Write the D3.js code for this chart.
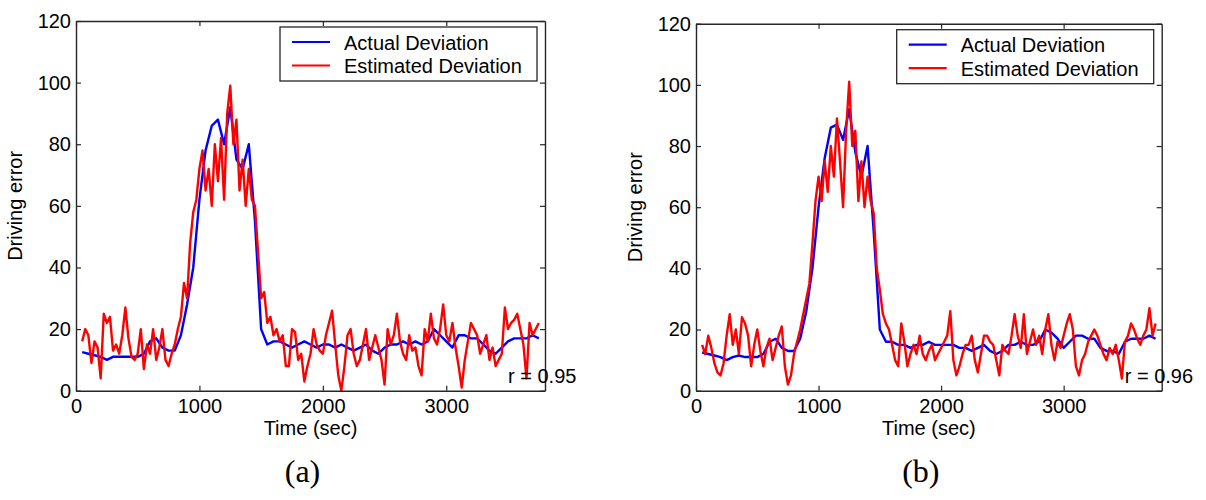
<!DOCTYPE html>
<html>
<head>
<meta charset="utf-8">
<script src="https://cdn.jsdelivr.net/npm/d3@7"></script>
<style>
  body { margin: 0; background: #fff; }
  svg { display: block; font-family: "Liberation Sans", Arial, sans-serif; }
</style>
</head>
<body>
<svg id="chart" width="1206" height="500"></svg>
<script>
// sample times (sec)
const timeEst = d3.range(50, 3751, 25);
const timeAct = d3.range(50, 3751, 50);

const xTicks = [0, 1000, 2000, 3000];
const yTicks = [0, 20, 40, 60, 80, 100, 120];
const seriesNames = ["Actual Deviation", "Estimated Deviation"];
const panelLabels = ["(a)", "(b)"];
const rLabels = ["r = 0.95", "r = 0.96"];

// panel (a)
const actualA = [
  12.5, 12, 11.5, 11, 10, 11, 11, 11, 11, 11, 12, 16, 17, 14, 13, 13, 18, 28, 40, 62,
  78, 86, 88, 80, 92, 75, 72, 80, 55, 20, 15, 16, 16, 15, 14, 15, 16, 15, 14, 15,
  15, 14, 15, 14, 13, 14, 15, 13, 12, 14, 15, 15, 16, 15, 16, 15, 16, 20, 18, 16,
  14, 18, 18, 17, 17, 15, 13, 12, 14, 16, 17, 17, 17, 18, 17
];
const estimatedA = [
  16, 20, 18, 9, 16, 14, 4, 25, 22, 24, 13, 15, 12, 18, 27, 17, 11, 10, 12, 20,
  7, 15, 12, 20, 10, 14, 20, 10, 8, 12, 15, 20, 24, 35, 30, 48, 58, 62, 72, 78,
  65, 72, 60, 80, 68, 82, 62, 90, 99, 80, 88, 65, 75, 60, 72, 62, 60, 45, 30, 32,
  22, 24, 18, 20, 16, 18, 8, 8, 20, 19, 10, 12, 3, 8, 12, 20, 15, 13, 12, 18,
  22, 26, 15, 5, 0, 8, 18, 20, 12, 8, 10, 15, 20, 10, 14, 18, 14, 10, 2, 20,
  15, 18, 25, 16, 12, 10, 18, 13, 14, 8, 5, 20, 16, 25, 17, 15, 20, 28, 18, 16,
  22, 14, 8, 1, 10, 16, 22, 20, 18, 12, 15, 18, 10, 14, 8, 10, 12, 27, 20, 22,
  23, 25, 20, 15, 4, 22, 18, 20, 22
];

// panel (b)
const actualB = [
  12.5, 12, 11.5, 11, 10, 11, 11.5, 11, 11, 11, 12, 16, 17, 14, 13, 13, 17, 26, 40, 60,
  76, 86, 87, 82, 92, 78, 70, 80, 52, 20, 16, 16, 15, 15, 14, 15, 15, 16, 15, 15,
  15, 15, 14, 14, 13, 14, 15, 13, 12, 13, 15, 15, 16, 15, 15, 16, 20, 19, 17, 14,
  16, 18, 18, 17, 17, 14, 13, 13, 12, 16, 17, 17, 17, 18, 17
];
const estimatedB = [
  15, 12, 18, 14, 9, 6, 5, 9, 18, 25, 15, 20, 12, 24, 22, 18, 8, 15, 20, 13,
  8, 14, 17, 10, 14, 18, 21, 8, 2, 5, 12, 16, 20, 25, 30, 35, 48, 62, 70, 62,
  75, 65, 80, 70, 89, 75, 60, 85, 101, 80, 85, 62, 75, 60, 70, 62, 58, 40, 33, 25,
  22, 20, 15, 10, 8, 22, 16, 8, 12, 15, 12, 18, 12, 10, 13, 15, 10, 12, 14, 16,
  18, 26, 10, 5, 8, 12, 15, 15, 18, 10, 6, 12, 18, 18, 16, 15, 10, 5, 15, 13,
  12, 18, 25, 18, 14, 25, 12, 16, 20, 15, 18, 12, 20, 25, 15, 10, 16, 14, 18, 22,
  25, 20, 8, 5, 10, 12, 16, 18, 20, 18, 15, 12, 10, 14, 12, 15, 10, 4, 16, 18,
  22, 20, 17, 15, 18, 20, 27, 18, 22
];

const panels = [
  { left: 76, top: 21, right: 545, bottom: 390.7, actual: actualA, estimated: estimatedA },
  { left: 696, top: 23.7, right: 1161.7, bottom: 390.7, actual: actualB, estimated: estimatedB }
];

const svg = d3.select("#chart");
const axisColor = "#262626";
const colors = ["#0000ff", "#ff0000"];

panels.forEach((p, i) => {
  const x = d3.scaleLinear().domain([0, 3800]).range([p.left, p.right]);
  const y = d3.scaleLinear().domain([0, 120]).range([p.bottom, p.top]);
  const w = p.right - p.left;
  const h = p.bottom - p.top;
  const g = svg.append("g");

  // lines
  const line = d3.line().x(d => x(d[0])).y(d => y(d[1]));
  g.append("path")
    .datum(timeAct.map((t, k) => [t, p.actual[k]]))
    .attr("fill", "none")
    .attr("stroke", colors[0])
    .attr("stroke-width", 2.4)
    .attr("stroke-linejoin", "round")
    .attr("d", line);
  g.append("path")
    .datum(timeEst.map((t, k) => [t, p.estimated[k]]))
    .attr("fill", "none")
    .attr("stroke", colors[1])
    .attr("stroke-width", 2.4)
    .attr("stroke-linejoin", "round")
    .attr("d", line);

  // axes, ticks pointing inward like matlab
  const styleAxis = sel => {
    sel.select(".domain").attr("stroke", axisColor).attr("stroke-width", 1.4);
    sel.selectAll(".tick line").attr("stroke", axisColor).attr("stroke-width", 1.2);
    sel.selectAll("text").attr("fill", "#000").style("font-size", "20px")
      .style("font-family", '"Liberation Sans", Arial, sans-serif');
  };
  g.append("g").attr("transform", `translate(0,${p.bottom})`)
    .call(d3.axisBottom(x).tickValues(xTicks).tickFormat(d3.format("d"))
      .tickSizeInner(-5).tickSizeOuter(0).tickPadding(8))
    .call(styleAxis);
  g.append("g").attr("transform", `translate(0,${p.top})`)
    .call(d3.axisTop(x).tickValues(xTicks).tickSizeInner(-5).tickSizeOuter(0).tickFormat(""))
    .call(styleAxis);
  g.append("g").attr("transform", `translate(${p.left},0)`)
    .call(d3.axisLeft(y).tickValues(yTicks).tickSizeInner(-5).tickSizeOuter(0).tickPadding(5))
    .call(styleAxis);
  g.append("g").attr("transform", `translate(${p.right},0)`)
    .call(d3.axisRight(y).tickValues(yTicks).tickSizeInner(-5).tickSizeOuter(0).tickFormat(""))
    .call(styleAxis);

  // axis titles
  g.append("text")
    .attr("x", p.left + w / 2).attr("y", 435)
    .attr("text-anchor", "middle").style("font-size", "20px")
    .text("Time (sec)");
  g.append("text")
    .attr("transform", `translate(${p.left - 54},${p.top + h / 2}) rotate(-90)`)
    .attr("text-anchor", "middle").style("font-size", "20px")
    .text("Driving error");

  // correlation
  g.append("text")
    .attr("x", p.right - 37).attr("y", 382.7)
    .style("font-size", "20px")
    .text(rLabels[i]);

  // legend
  const lg = g.append("g").attr("transform", `translate(${p.right - 265},${p.top + 6})`);
  lg.append("rect")
    .attr("width", 257).attr("height", 54)
    .attr("fill", "#fff").attr("stroke", axisColor).attr("stroke-width", 1.3);
  seriesNames.forEach((name, k) => {
    const yy = 15 + k * 23.5;
    lg.append("line")
      .attr("x1", 12).attr("x2", 50).attr("y1", yy).attr("y2", yy)
      .attr("stroke", colors[k]).attr("stroke-width", 2.2);
    lg.append("text")
      .attr("x", 64).attr("y", yy + 7.5)
      .style("font-size", "20px")
      .text(name);
  });

  // panel label
  svg.append("text")
    .attr("x", p.left + w / 2 - 8).attr("y", 482)
    .attr("text-anchor", "middle")
    .style("font-family", '"Liberation Serif", "Times New Roman", serif')
    .style("font-size", "32px")
    .text(panelLabels[i]);
});
</script>
</body>
</html>
